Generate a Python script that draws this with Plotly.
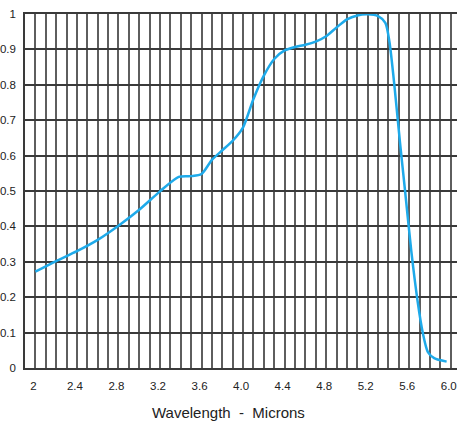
import plotly.graph_objects as go

wavelength = [2.0, 2.2, 2.4, 2.6, 2.8, 3.0, 3.2, 3.38, 3.5, 3.6, 3.7, 3.8, 3.9, 4.0,
              4.1, 4.2, 4.3, 4.4, 4.5, 4.6, 4.7, 4.8, 4.9, 5.0, 5.1, 5.2, 5.3, 5.37,
              5.41, 5.46, 5.51, 5.56, 5.62, 5.68, 5.73, 5.78, 5.84, 5.96]
response = [0.272, 0.302, 0.330, 0.362, 0.402, 0.447, 0.499, 0.540, 0.542, 0.548, 0.588,
            0.615, 0.642, 0.680, 0.760, 0.826, 0.873, 0.897, 0.907, 0.913, 0.922, 0.937,
            0.962, 0.985, 0.996, 0.999, 0.994, 0.975, 0.92, 0.79, 0.64, 0.50, 0.33,
            0.19, 0.10, 0.045, 0.028, 0.018]
x_tick_vals = [2.0, 2.4, 2.8, 3.2, 3.6, 4.0, 4.4, 4.8, 5.2, 5.6, 6.0]
x_tick_text = ["2", "2.4", "2.8", "3.2", "3.6", "4.0", "4.4", "4.8", "5.2", "5.6", "6.0"]
y_tick_vals = [0, 0.1, 0.2, 0.3, 0.4, 0.5, 0.6, 0.7, 0.8, 0.9, 1.0]
y_tick_text = ["0", "0.1", "0.2", "0.3", "0.4", "0.5", "0.6", "0.7", "0.8", "0.9", "1"]
x_title = "Wavelength  -  Microns"

fig = go.Figure()
fig.add_trace(go.Scatter(
    x=wavelength, y=response, mode="lines",
    line=dict(color="#1eaaea", width=2.5, shape="spline", smoothing=0.7),
    hoverinfo="skip"))

grid_v = "#5e5e5e"
grid_h = "#3a3a3a"
fig.update_layout(
    width=457, height=426,
    margin=dict(l=25, r=0, t=14, b=58, autoexpand=False),
    paper_bgcolor="white", plot_bgcolor="white",
    showlegend=False,
    font=dict(family="Liberation Sans, Arial, sans-serif", size=11.5, color="#222"),
    xaxis=dict(
        range=[1.9, 6.06], tickvals=x_tick_vals, ticktext=x_tick_text,
        showgrid=True, gridcolor=grid_v, gridwidth=1.5,
        minor=dict(tick0=1.9, dtick=0.1, showgrid=True, gridcolor=grid_v, gridwidth=1.5),
        zeroline=False, showline=True, linecolor=grid_h, linewidth=1.5, mirror=True,
        ticks="", ticklabelstandoff=6, ticklabelshift=-2, fixedrange=True, automargin=False,
        ticklabeloverflow="allow",
    ),
    yaxis=dict(
        range=[0, 1.0], tickvals=y_tick_vals, ticktext=y_tick_text,
        showgrid=True, gridcolor=grid_h, gridwidth=1.5,
        zeroline=False, showline=True, linecolor=grid_h, linewidth=1.5, mirror=True,
        ticks="", ticklabelstandoff=5, fixedrange=True, automargin=False,
        ticklabeloverflow="allow",
    ),
    annotations=[dict(
        text=x_title, xref="x", yref="paper", x=3.86, y=0, yshift=-44,
        xanchor="center", yanchor="middle", showarrow=False,
        font=dict(size=15, color="#222"))],
)

fig.write_html("out.html", config={"displayModeBar": False},
               post_script="document.body.style.margin='0';document.body.style.overflow='hidden';")
